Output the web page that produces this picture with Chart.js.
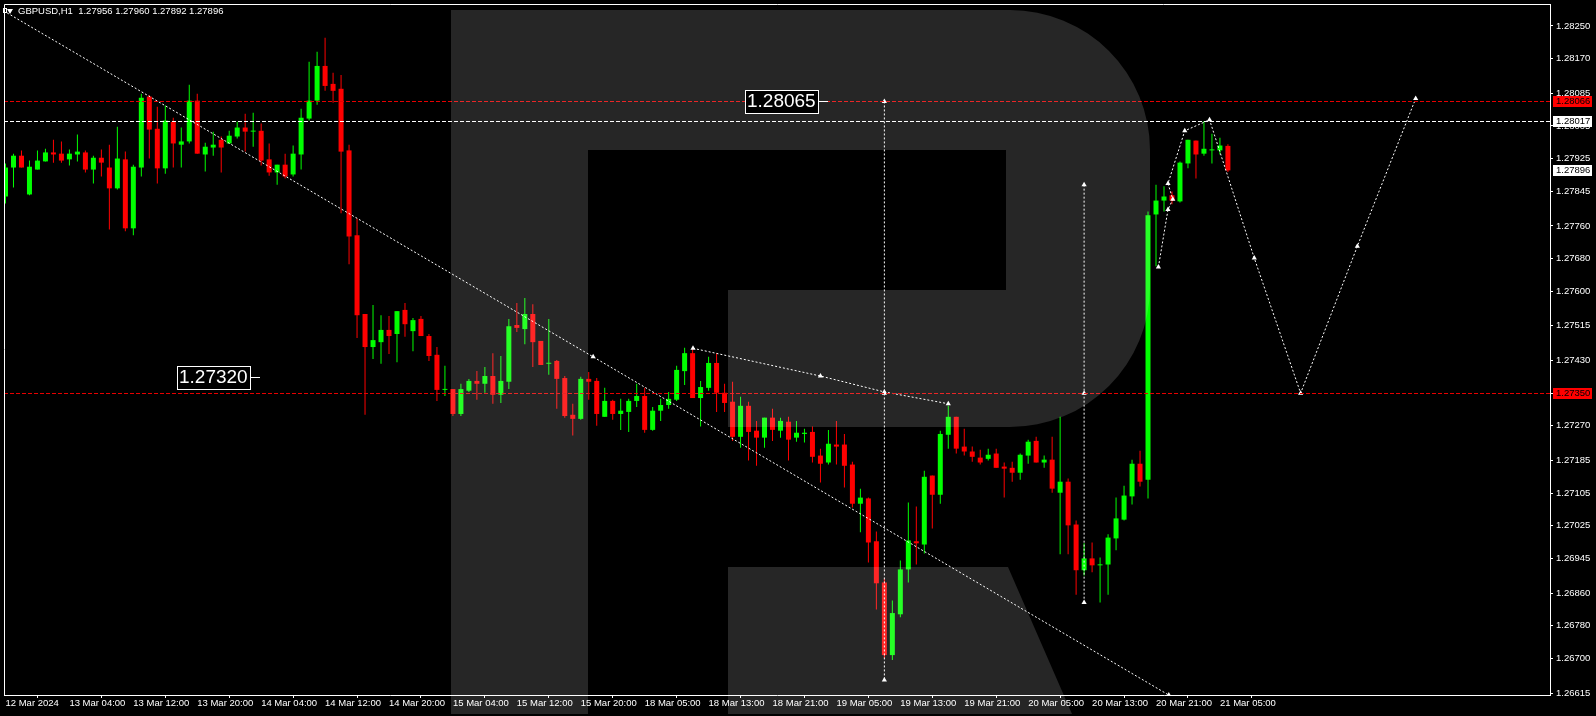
<!DOCTYPE html>
<html>
<head>
<meta charset="utf-8">
<script src="https://cdn.jsdelivr.net/npm/chart.js@4.4.1/dist/chart.umd.min.js"></script>
<style>
  html, body { margin: 0; padding: 0; background: #000; }
  #wrap { width: 1596px; height: 716px; }
</style>
</head>
<body>
<div id="wrap"><canvas id="chartCanvas" width="1596" height="716"></canvas></div>
<script>
// ============================================
// DATA - GBPUSD H1, one entry per bar
// ============================================

const barOpen = [
  1.27832, 1.27903, 1.27932, 1.27837, 1.27898, 1.27918, 1.27940, 1.27937, 1.27923, 1.27935,
  1.27940, 1.27898, 1.27927, 1.27903, 1.27852, 1.27923, 1.27754, 1.27903, 1.28077, 1.27998,
  1.27901, 1.28015, 1.27959, 1.27967, 1.28067, 1.27935, 1.27952, 1.27971, 1.27962, 1.27979,
  1.28001, 1.27991, 1.27993, 1.27923, 1.27891, 1.27910, 1.27886, 1.27935, 1.28023, 1.28067,
  1.28152, 1.28108, 1.28096, 1.27945, 1.27737, 1.27544, 1.27463, 1.27475, 1.27505, 1.27495,
  1.27554, 1.27502, 1.27532, 1.27490, 1.27444, 1.27358, 1.27360, 1.27299, 1.27356, 1.27380,
  1.27373, 1.27392, 1.27346, 1.27378, 1.27517, 1.27507, 1.27544, 1.27478, 1.27422, 1.27429,
  1.27387, 1.27297, 1.27287, 1.27385, 1.27380, 1.27292, 1.27331, 1.27299, 1.27304, 1.27331,
  1.27343, 1.27260, 1.27307, 1.27321, 1.27334, 1.27404, 1.27448, 1.27338, 1.27363, 1.27424,
  1.27351, 1.27329, 1.27243, 1.27319, 1.27258, 1.27241, 1.27290, 1.27258, 1.27280, 1.27241,
  1.27250, 1.27255, 1.27197, 1.27180, 1.27224, 1.27224, 1.27175, 1.27079, 1.27092, 1.26987,
  1.26886, 1.26708, 1.26808, 1.26918, 1.26987, 1.26979, 1.27148, 1.27101, 1.27248, 1.27292,
  1.27219, 1.27207, 1.27192, 1.27189, 1.27202, 1.27170, 1.27167, 1.27155, 1.27197, 1.27233,
  1.27180, 1.27187, 1.27106, 1.27133, 1.27028, 1.26916, 1.26945, 1.26928, 1.26930, 1.26994,
  1.27040, 1.27097, 1.27177, 1.27138, 1.27788, 1.27822, 1.27835, 1.27820, 1.27913, 1.27969,
  1.27937, 1.27945, 1.27945, 1.27956
];

const barHigh = [
  1.27913, 1.27937, 1.27945, 1.27920, 1.27945, 1.27949, 1.27971, 1.27967, 1.27947, 1.27984,
  1.27945, 1.27932, 1.27947, 1.27959, 1.28003, 1.27942, 1.27910, 1.28084, 1.28081, 1.28052,
  1.28055, 1.28025, 1.28001, 1.28106, 1.28084, 1.27964, 1.27991, 1.27979, 1.27993, 1.28015,
  1.28035, 1.28037, 1.28011, 1.27962, 1.27910, 1.27937, 1.27957, 1.28047, 1.28162, 1.28187,
  1.28221, 1.28135, 1.28130, 1.27959, 1.27778, 1.27544, 1.27566, 1.27541, 1.27539, 1.27551,
  1.27571, 1.27534, 1.27539, 1.27495, 1.27463, 1.27417, 1.27360, 1.27373, 1.27385, 1.27404,
  1.27414, 1.27448, 1.27441, 1.27532, 1.27571, 1.27583, 1.27568, 1.27478, 1.27532, 1.27431,
  1.27392, 1.27324, 1.27390, 1.27402, 1.27387, 1.27363, 1.27334, 1.27336, 1.27336, 1.27373,
  1.27363, 1.27316, 1.27336, 1.27353, 1.27417, 1.27461, 1.27463, 1.27380, 1.27439, 1.27448,
  1.27373, 1.27378, 1.27341, 1.27329, 1.27282, 1.27290, 1.27312, 1.27290, 1.27292, 1.27282,
  1.27263, 1.27268, 1.27214, 1.27260, 1.27282, 1.27250, 1.27182, 1.27116, 1.27094, 1.27011,
  1.26896, 1.26842, 1.26940, 1.27082, 1.27072, 1.27160, 1.27148, 1.27258, 1.27319, 1.27292,
  1.27263, 1.27219, 1.27211, 1.27214, 1.27214, 1.27180, 1.27182, 1.27202, 1.27236, 1.27243,
  1.27197, 1.27243, 1.27292, 1.27141, 1.27038, 1.26982, 1.26984, 1.26947, 1.27004, 1.27094,
  1.27123, 1.27187, 1.27209, 1.27795, 1.27861, 1.27857, 1.27844, 1.27918, 1.27971, 1.27969,
  1.28017, 1.27986, 1.27976, 1.27960
];

const barLow = [
  1.27815, 1.27854, 1.27903, 1.27835, 1.27898, 1.27918, 1.27915, 1.27915, 1.27908, 1.27918,
  1.27891, 1.27864, 1.27881, 1.27751, 1.27849, 1.27747, 1.27737, 1.27881, 1.27925, 1.27864,
  1.27888, 1.27903, 1.27903, 1.27962, 1.27937, 1.27893, 1.27932, 1.27891, 1.27962, 1.27974,
  1.27942, 1.27954, 1.27908, 1.27883, 1.27861, 1.27876, 1.27881, 1.27898, 1.28018, 1.28057,
  1.28091, 1.28062, 1.27791, 1.27666, 1.27485, 1.27297, 1.27434, 1.27422, 1.27446, 1.27426,
  1.27488, 1.27453, 1.27490, 1.27429, 1.27331, 1.27343, 1.27294, 1.27294, 1.27353, 1.27334,
  1.27351, 1.27324, 1.27326, 1.27360, 1.27500, 1.27470, 1.27414, 1.27419, 1.27395, 1.27312,
  1.27290, 1.27246, 1.27285, 1.27334, 1.27270, 1.27292, 1.27285, 1.27260, 1.27255, 1.27316,
  1.27253, 1.27258, 1.27282, 1.27312, 1.27331, 1.27370, 1.27338, 1.27268, 1.27356, 1.27304,
  1.27304, 1.27233, 1.27216, 1.27185, 1.27172, 1.27216, 1.27233, 1.27241, 1.27185, 1.27231,
  1.27229, 1.27180, 1.27131, 1.27175, 1.27175, 1.27119, 1.27070, 1.27009, 1.26935, 1.26820,
  1.26701, 1.26696, 1.26801, 1.26886, 1.26930, 1.26957, 1.27018, 1.27079, 1.27214, 1.27202,
  1.27197, 1.27182, 1.27175, 1.27185, 1.27167, 1.27094, 1.27133, 1.27138, 1.27177, 1.27180,
  1.27167, 1.27106, 1.26955, 1.26955, 1.26856, 1.26903, 1.26911, 1.26837, 1.26856, 1.26965,
  1.27038, 1.27077, 1.27121, 1.27092, 1.27661, 1.27795, 1.27813, 1.27817, 1.27901, 1.27876,
  1.27932, 1.27913, 1.27935, 1.27892
];

const barClose = [
  1.27903, 1.27932, 1.27903, 1.27905, 1.27920, 1.27940, 1.27935, 1.27920, 1.27937, 1.27942,
  1.27898, 1.27927, 1.27915, 1.27852, 1.27925, 1.27754, 1.27905, 1.28074, 1.27996, 1.27901,
  1.28018, 1.27962, 1.27967, 1.28067, 1.27937, 1.27954, 1.27959, 1.27952, 1.27981, 1.28001,
  1.27991, 1.27993, 1.27920, 1.27891, 1.27910, 1.27881, 1.27937, 1.28025, 1.28067, 1.28152,
  1.28103, 1.28091, 1.27942, 1.27734, 1.27541, 1.27463, 1.27480, 1.27505, 1.27490, 1.27551,
  1.27519, 1.27529, 1.27490, 1.27441, 1.27358, 1.27360, 1.27299, 1.27360, 1.27380, 1.27373,
  1.27392, 1.27346, 1.27380, 1.27514, 1.27510, 1.27544, 1.27475, 1.27419, 1.27424, 1.27385,
  1.27294, 1.27287, 1.27385, 1.27378, 1.27299, 1.27331, 1.27299, 1.27307, 1.27331, 1.27343,
  1.27260, 1.27307, 1.27321, 1.27336, 1.27407, 1.27448, 1.27338, 1.27365, 1.27424, 1.27351,
  1.27326, 1.27243, 1.27319, 1.27255, 1.27241, 1.27290, 1.27260, 1.27282, 1.27236, 1.27253,
  1.27253, 1.27194, 1.27177, 1.27226, 1.27219, 1.27172, 1.27079, 1.27094, 1.26984, 1.26884,
  1.26708, 1.26811, 1.26918, 1.26989, 1.26982, 1.27145, 1.27101, 1.27250, 1.27292, 1.27214,
  1.27207, 1.27194, 1.27180, 1.27199, 1.27167, 1.27165, 1.27155, 1.27199, 1.27231, 1.27180,
  1.27187, 1.27116, 1.27133, 1.27026, 1.26916, 1.26945, 1.26928, 1.26930, 1.26996, 1.27043,
  1.27099, 1.27177, 1.27133, 1.27786, 1.27822, 1.27832, 1.27822, 1.27915, 1.27971, 1.27935,
  1.27949, 1.27947, 1.27957, 1.27896
];

// time axis: bar index of each label and its text
const xTickBars = [0, 8, 16, 24, 32, 40, 48, 56, 64, 72, 80, 88, 96, 104, 112, 120, 128, 136, 144, 152];
const xTickLabels = [
  '12 Mar 2024', '13 Mar 04:00', '13 Mar 12:00', '13 Mar 20:00', '14 Mar 04:00',
  '14 Mar 12:00', '14 Mar 20:00', '15 Mar 04:00', '15 Mar 12:00', '15 Mar 20:00',
  '18 Mar 05:00', '18 Mar 13:00', '18 Mar 21:00', '19 Mar 05:00', '19 Mar 13:00',
  '19 Mar 21:00', '20 Mar 05:00', '20 Mar 13:00', '20 Mar 21:00', '21 Mar 05:00'
];

const yTickLabels = [
  '1.28250', '1.28170', '1.28085', '1.28005', '1.27925', '1.27845', '1.27760',
  '1.27680', '1.27600', '1.27515', '1.27430', '1.27350', '1.27270', '1.27185',
  '1.27105', '1.27025', '1.26945', '1.26860', '1.26780', '1.26700', '1.26615'
];

// horizontal levels and price tags
const redLevels = [1.28066, 1.27350];
const whiteLevels = [1.28017];
const lastPrice = 1.27896;

// drawn analysis: long trend line
const trendBars = [0.2, 73.55, 145.6];
const trendPrices = [1.28282, 1.27439, 1.26610];

// short descending line
const slopeBars = [86.05, 102, 110, 118];
const slopePrices = [1.27460, 1.27392, 1.27353, 1.27324];

// vertical measure lines
const vert1Bar = 110;
const vert1Prices = [1.28065, 1.27350, 1.26647];
const vert2Bar = 135;
const vert2Prices = [1.27861, 1.27350, 1.26837];

// forecast path
const pathBars = [144.3, 145.5, 146.1, 145.5, 147.6, 150.7, 156.3, 162.1, 169.2, 176.5];
const pathPrices = [1.27659, 1.27800, 1.27825, 1.27864, 1.27993, 1.28020, 1.27681, 1.27350, 1.27710, 1.28072];

// boxed text labels on the chart
const boxLabels = ['1.28065', '1.27320'];
const boxBars = [92.6, 21.45];
const boxPrices = [1.28065, 1.27390];

const titleText = 'GBPUSD,H1  1.27956 1.27960 1.27892 1.27896';

// ============================================
// STYLE
// ============================================

const BULL = '#00ff00';
const BEAR = '#ff0000';
const LEVEL_RED = '#e60000';
const FONT = 'Liberation Sans, Arial, sans-serif';

function getEl(id) { return document.getElementById(id); }

function candleColors() {
    return barOpen.map(function(o, i) {
        return barClose[i] >= o ? BULL : BEAR;
    });
}

function toPoints(bars, prices) {
    return bars.map(function(b, i) { return { x: b, y: prices[i] }; });
}

function dashedLine(points, radius) {
    return {
        type: 'line',
        data: points,
        borderColor: '#ffffff',
        borderWidth: 1,
        borderDash: [2, 2],
        pointStyle: 'triangle',
        pointRadius: radius,
        pointBackgroundColor: '#ffffff',
        pointBorderWidth: 0,
        tension: 0,
        order: 0
    };
}

// ============================================
// PLUGIN - background, logo, levels, tags, title
// ============================================

const decorPlugin = {
    id: 'decor',
    beforeDraw: function(chart) {
        const ctx = chart.ctx;
        ctx.save();
        ctx.fillStyle = '#000000';
        ctx.fillRect(0, 0, chart.width, chart.height);
        ctx.restore();
    },
    afterDatasetsDraw: function(chart) {
        const ctx = chart.ctx;
        const area = chart.chartArea;
        const y = chart.scales.y;

        // dashed horizontal levels
        ctx.save();
        ctx.beginPath();
        ctx.rect(area.left, area.top, area.right - area.left, area.bottom - area.top);
        ctx.clip();
        ctx.lineWidth = 1;
        ctx.setLineDash([4, 2]);
        redLevels.forEach(function(v) {
            const py = Math.round(y.getPixelForValue(v)) + 0.5;
            ctx.strokeStyle = LEVEL_RED;
            ctx.beginPath(); ctx.moveTo(area.left, py); ctx.lineTo(area.right, py); ctx.stroke();
        });
        whiteLevels.forEach(function(v) {
            const py = Math.round(y.getPixelForValue(v)) + 0.5;
            ctx.strokeStyle = '#ffffff';
            ctx.beginPath(); ctx.moveTo(area.left, py); ctx.lineTo(area.right, py); ctx.stroke();
        });
        ctx.restore();

        // watermark "R"
        ctx.save();
        ctx.fillStyle = 'rgba(255,255,255,0.15)';
        ctx.beginPath();
        ctx.moveTo(451, 10);
        ctx.lineTo(1010, 10);
        ctx.arcTo(1150, 10, 1150, 150, 140);
        ctx.lineTo(1150, 287);
        ctx.arcTo(1150, 427, 1010, 427, 140);
        ctx.lineTo(728, 427);
        ctx.lineTo(728, 290);
        ctx.lineTo(1006, 290);
        ctx.lineTo(1006, 150);
        ctx.lineTo(588, 150);
        ctx.lineTo(588, 714);
        ctx.lineTo(451, 714);
        ctx.closePath();
        ctx.moveTo(728, 567);
        ctx.lineTo(1008, 567);
        ctx.lineTo(1072, 714);
        ctx.lineTo(728, 714);
        ctx.closePath();
        ctx.fill();
        ctx.restore();
    },
    afterDraw: function(chart) {
        const ctx = chart.ctx;
        const area = chart.chartArea;
        const x = chart.scales.x;
        const y = chart.scales.y;

        ctx.save();
        // frame
        ctx.strokeStyle = '#ffffff';
        ctx.lineWidth = 1;
        ctx.beginPath();
        ctx.moveTo(area.left + 0.5, area.bottom);
        ctx.lineTo(area.left + 0.5, area.top + 0.5);
        ctx.lineTo(area.right, area.top + 0.5);
        ctx.stroke();

        // price tags on the axis
        ctx.font = '9.5px ' + FONT;
        ctx.textBaseline = 'middle';
        function tag(v, bg, fg) {
            const py = Math.round(y.getPixelForValue(v));
            ctx.fillStyle = bg;
            ctx.fillRect(area.right + 3, py - 5, 39, 11);
            ctx.fillStyle = fg;
            ctx.fillText(v.toFixed(5), area.right + 6, py + 0.5);
        }
        redLevels.forEach(function(v) { tag(v, '#ff0000', '#000000'); });
        whiteLevels.forEach(function(v) { tag(v, '#ffffff', '#000000'); });
        tag(lastPrice, '#ffffff', '#000000');

        // boxed labels
        ctx.font = '19px ' + FONT;
        boxLabels.forEach(function(t, i) {
            const px = Math.round(x.getPixelForValue(boxBars[i]));
            const py = Math.round(y.getPixelForValue(boxPrices[i]));
            const w = 73;
            ctx.fillStyle = '#000000';
            ctx.fillRect(px, py - 11, w, 23);
            ctx.strokeStyle = '#ffffff';
            ctx.strokeRect(px + 0.5, py - 10.5, w, 23);
            ctx.fillStyle = '#ffffff';
            ctx.fillText(t, px + 2, py + 1);
            ctx.beginPath();
            ctx.moveTo(px + w, py + 0.5);
            ctx.lineTo(px + w + 10, py + 0.5);
            ctx.stroke();
        });

        // title with the small trade arrow
        ctx.fillStyle = '#ffffff';
        ctx.beginPath();
        ctx.moveTo(7, 9); ctx.lineTo(13, 9); ctx.lineTo(10, 14);
        ctx.closePath();
        ctx.fill();
        ctx.strokeRect(3.5, 8.5, 3, 4);
        ctx.font = '9.5px ' + FONT;
        ctx.textBaseline = 'alphabetic';
        ctx.fillText(titleText, 18, 14);
        ctx.restore();
    }
};

// ============================================
// CHART
// ============================================

function buildChart() {
    const ctx = getEl('chartCanvas').getContext('2d');
    const colors = candleColors();

    const bodies = barOpen.map(function(o, i) { return { x: i, y: [o, barClose[i]] }; });
    const wicks = barLow.map(function(l, i) { return { x: i, y: [l, barHigh[i]] }; });

    const markAll = function(n) { return new Array(n).fill(3); };

    return new Chart(ctx, {
        type: 'bar',
        data: {
            datasets: [
                dashedLine(toPoints(trendBars, trendPrices), [0, 3, 3]),
                dashedLine(toPoints(slopeBars, slopePrices), markAll(slopeBars.length)),
                dashedLine(vert1Prices.map(function(p) { return { x: vert1Bar, y: p }; }), markAll(3)),
                dashedLine(vert2Prices.map(function(p) { return { x: vert2Bar, y: p }; }), markAll(3)),
                dashedLine(toPoints(pathBars, pathPrices), markAll(pathBars.length)),
                {
                    type: 'bar',
                    data: bodies,
                    backgroundColor: colors,
                    barThickness: 5,
                    minBarLength: 1,
                    grouped: false,
                    inflateAmount: 0,
                    borderWidth: 0,
                    order: 1
                },
                {
                    type: 'bar',
                    data: wicks,
                    backgroundColor: colors,
                    barThickness: 1,
                    grouped: false,
                    inflateAmount: 0,
                    borderWidth: 0,
                    order: 2
                }
            ]
        },
        options: {
            responsive: false,
            animation: false,
            devicePixelRatio: 1,
            layout: { padding: { left: 2, top: 2, right: 0, bottom: 0 } },
            plugins: {
                legend: { display: false },
                tooltip: { enabled: false }
            },
            scales: {
                x: {
                    type: 'linear',
                    min: -0.1875,
                    max: 193.3125,
                    offset: false,
                    afterFit: function(s) {
                        s.height = 21;
                        s.paddingLeft = 0;
                        s.paddingRight = 0;
                    },
                    afterBuildTicks: function(s) {
                        s.ticks = xTickBars.map(function(v) { return { value: v }; });
                    },
                    ticks: {
                        color: '#ffffff',
                        font: { family: FONT, size: 9.5 },
                        align: 'start',
                        padding: 0,
                        autoSkip: false,
                        maxRotation: 0,
                        callback: function(v, i) { return xTickLabels[i]; }
                    },
                    grid: { drawOnChartArea: false, color: '#ffffff', tickLength: 3 },
                    border: { color: '#ffffff', width: 1 }
                },
                y: {
                    position: 'right',
                    min: 1.2661019,
                    max: 1.2830381,
                    afterFit: function(s) {
                        s.width = 46;
                        s.paddingTop = 0;
                        s.paddingBottom = 0;
                    },
                    afterBuildTicks: function(s) {
                        s.ticks = yTickLabels.map(function(t) { return { value: parseFloat(t) }; });
                    },
                    ticks: {
                        color: '#ffffff',
                        font: { family: FONT, size: 9.5 },
                        padding: 3,
                        autoSkip: false,
                        callback: function(v, i) { return yTickLabels[i]; }
                    },
                    grid: { drawOnChartArea: false, color: '#ffffff', tickLength: 3 },
                    border: { color: '#ffffff', width: 1 }
                }
            }
        },
        plugins: [decorPlugin]
    });
}

buildChart();
</script>
</body>
</html>
